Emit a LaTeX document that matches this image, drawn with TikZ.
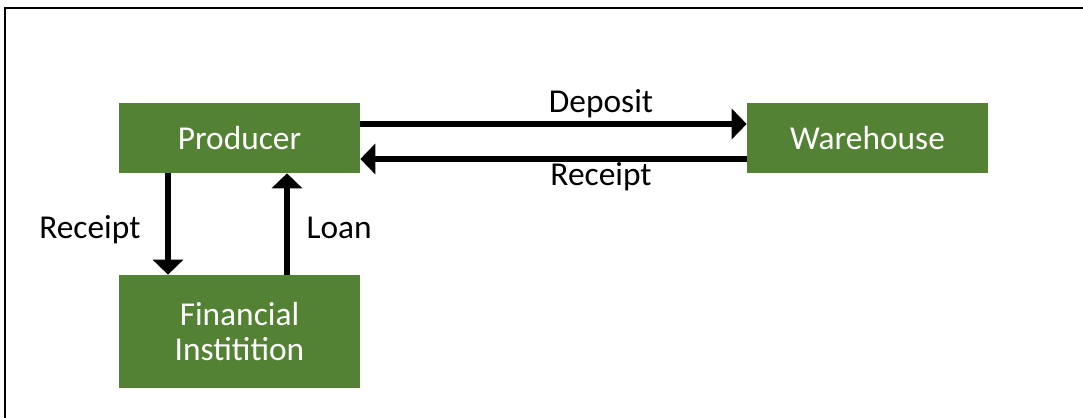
\documentclass[tikz,border=0pt]{standalone}
\usepackage{fontspec}
\setmainfont{Carlito}
\usepackage{tikz}
\usetikzlibrary{arrows.meta}
\definecolor{boxgreen}{RGB}{84,130,53}

\begin{document}
\begin{tikzpicture}[x=0.02cm,y=0.02cm,
  font=\fontsize{19}{19.5}\selectfont,
  box/.style={fill=boxgreen,text=white,minimum width=4.82cm,inner sep=0pt,align=center},
  flow/.style={line width=0.105cm,-{Triangle[length=0.3cm,width=0.6cm]}},
  lbl/.style={inner sep=0pt}]
 \useasboundingbox (0,0) rectangle (1083,418);
 \draw[line width=1.5pt] (5,0) -- (5,410) -- (1083,410);
 \node[box,minimum height=1.4cm] (prod) at (239.5,280) {Producer};
 \node[box,minimum height=1.4cm] (wh) at (867.5,280) {Warehouse};
 \node[box,minimum height=2.26cm] (fin) at (239.5,86.5) {Financial\\Institition};
 \draw[flow] ([yshift=0.28cm]prod.east) -- ([yshift=0.28cm]wh.west)
   node[lbl,pos=.623,anchor=base,yshift=0.22cm] (dep) {Deposit};
 \draw[flow] ([yshift=-0.42cm]wh.west) -- ([yshift=-0.42cm]prod.east)
   node[lbl,pos=.377,anchor=base,yshift=-0.54cm] (rcpt) {Receipt};
 \draw[flow] ([xshift=-1.43cm]prod.south) -- ([xshift=-1.43cm]fin.north)
   node[lbl,pos=.647,anchor=base east,xshift=-0.5cm] (rcptb) {Receipt};
 \draw[flow] ([xshift=0.95cm]fin.north) -- ([xshift=0.95cm]prod.south)
   node[lbl,pos=.353,anchor=base west,xshift=0.34cm] (loan) {Loan};
\end{tikzpicture}
\end{document}
